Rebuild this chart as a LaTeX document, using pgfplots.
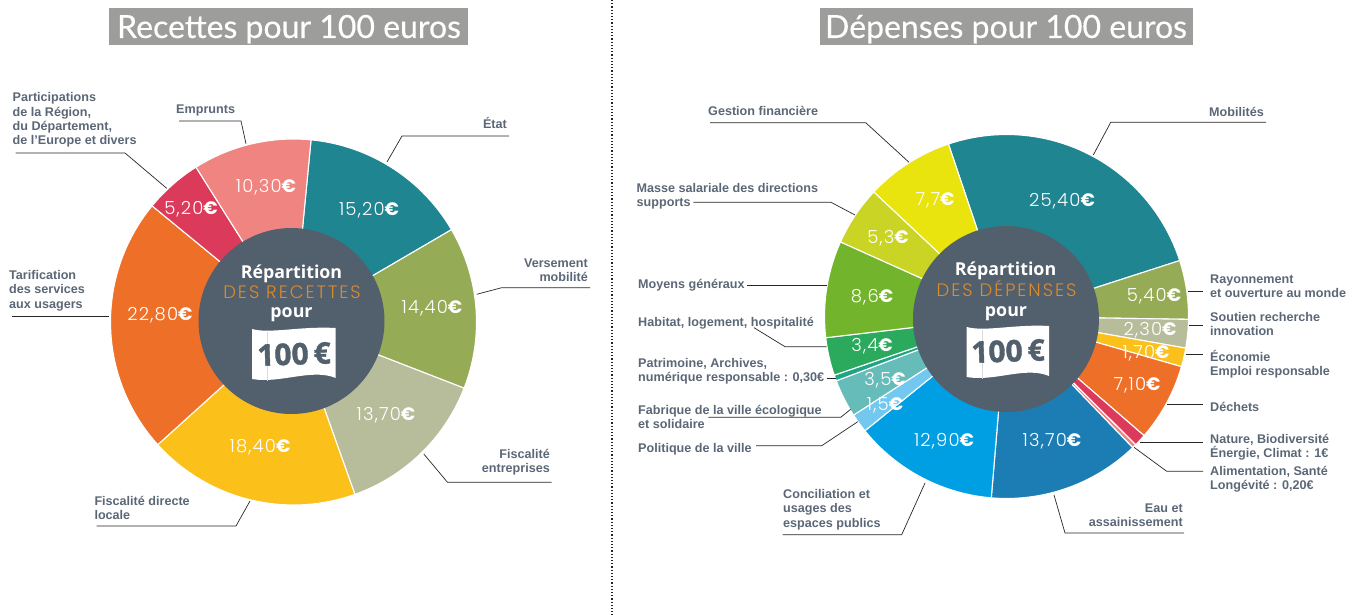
\documentclass[border=0pt]{standalone}
\usepackage{fontspec}
\usepackage{pgfplots}
\pgfplotsset{compat=1.18}
\setmainfont{Liberation Sans}
\newfontfamily\titlefont[FakeBold=0.35]{Lato}
\newfontfamily\centerfont{Open Sans}
\newfontfamily\heavyfont[FakeBold=1.2]{Open Sans}
\newfontfamily\valfont[LetterSpace=6.5]{Poppins Light}
\newfontfamily\desfont[LetterSpace=11]{Poppins Light}
\newfontfamily\eurofont{Poppins}
\definecolor{cTeal}{HTML}{1F8590}
\definecolor{cOlive}{HTML}{95AB56}
\definecolor{cSage}{HTML}{B7BD9B}
\definecolor{cAmber}{HTML}{FCC01A}
\definecolor{cOrange}{HTML}{EE7028}
\definecolor{cCrimson}{HTML}{DC3A5A}
\definecolor{cSalmon}{HTML}{F08480}
\definecolor{cYellow}{HTML}{E9E30E}
\definecolor{cLime}{HTML}{C9D424}
\definecolor{cGreen}{HTML}{72B52C}
\definecolor{cEmerald}{HTML}{2BA95C}
\definecolor{cMint}{HTML}{1FA585}
\definecolor{cAqua}{HTML}{66BCB8}
\definecolor{cSky}{HTML}{72C8EE}
\definecolor{cCyan}{HTML}{009FE3}
\definecolor{cBlue}{HTML}{1C7DB4}
\definecolor{cDark}{HTML}{525F6C}
\definecolor{cTitle}{HTML}{9D9D9C}
\definecolor{cText}{HTML}{5B6776}
\definecolor{cDes}{HTML}{E08A2A}
% #1 cx, #2 cy, #3 r, #4 start angle, #5 end angle, #6 colour
\newcommand{\slice}[6]{%
  \gdef\pts{(#1,#2)}%
  \pgfmathtruncatemacro\N{ceil(abs(#5-#4)/2)+1}%
  \foreach \k in {0,...,\N}{%
    \pgfmathsetmacro\ang{#4+(#5-#4)*\k/\N}%
    \pgfmathsetmacro\px{#1+#3*cos(\ang)}%
    \pgfmathsetmacro\py{#2-#3*sin(\ang)}%
    \xdef\pts{\pts (\px,\py)}%
  }%
  \edef\tmp{\noexpand\addplot[fill=#6,draw=white,line width=1.1pt,line join=round,mark=none,forget plot] coordinates {\pts (#1,#2)};}%
  \tmp
}
\newcommand{\val}[3]{\node[text=white,inner sep=0,anchor=center,yshift=-1pt] at (#1,#2) {\fontsize{18}{20}\valfont #3{\eurofont\bfseries €}};}
\newcommand{\lblL}[3]{\node[anchor=west,inner sep=0,yshift=-1pt,align=left,text=cText,font=\fontsize{12.6}{14.3}\selectfont\bfseries] at (#1,#2) {#3};}
\newcommand{\lblR}[3]{\node[anchor=east,inner sep=0,yshift=-1pt,align=right,text=cText,font=\fontsize{12.6}{14.3}\selectfont\bfseries] at (#1,#2) {#3};}
\tikzset{lead/.style={draw=black!85,line width=0.7pt}}
\begin{document}
\begin{tikzpicture}
\begin{axis}[width=1366pt,height=615pt,scale only axis,hide axis,clip=false,
  xmin=0,xmax=1366,ymin=0,ymax=615,y dir=reverse]
\path[use as bounding box] (0,0) rectangle (1366,615);
% separator
\draw[black!85,line width=1.2pt,dotted] (612,0) -- (612,615);
% titles
\fill[cTitle] (109,8) rectangle (468,45);
\fill[cTitle] (820,8) rectangle (1193,45);
\node[text=white,inner sep=0,anchor=base] at (289,38) {\fontsize{32}{34}\titlefont Recettes pour 100 euros};
\node[text=white,inner sep=0,anchor=base] at (1006,38) {\fontsize{32}{34}\titlefont Dépenses pour 100 euros};
% left pie
\slice{293.5}{322}{183}{84.5}{30.3}{cTeal}
\slice{293.5}{322}{183}{30.3}{-21.2}{cOlive}
\slice{293.5}{322}{183}{-21.2}{-70.4}{cSage}
\slice{293.5}{322}{183}{-70.4}{-137.9}{cAmber}
\slice{293.5}{322}{183}{222.1}{140.6}{cOrange}
\slice{293.5}{322}{183}{140.6}{122.2}{cCrimson}
\slice{293.5}{322}{183}{122.2}{84.5}{cSalmon}
% right pie
\slice{1006.5}{316.5}{182}{108.6}{17.9}{cTeal}
\slice{1006.5}{316.5}{182}{17.9}{-0.9}{cOlive}
\slice{1006.5}{316.5}{182}{-0.9}{-10}{cSage}
\slice{1006.5}{316.5}{182}{-10}{-16}{cAmber}
\slice{1006.5}{316.5}{182}{-16}{-40.9}{cOrange}
\slice{1006.5}{316.5}{182}{-40.9}{-44.8}{cCrimson}
\slice{1006.5}{316.5}{182}{-44.8}{-46.1}{cSalmon}
\slice{1006.5}{316.5}{182}{-46.1}{-94.8}{cBlue}
\slice{1006.5}{316.5}{182}{265.2}{218.9}{cCyan}
\slice{1006.5}{316.5}{182}{218.9}{212.8}{cSky}
\slice{1006.5}{316.5}{182}{212.8}{200.7}{cAqua}
\slice{1006.5}{316.5}{182}{200.7}{198.8}{cMint}
\slice{1006.5}{316.5}{182}{198.8}{186.7}{cEmerald}
\slice{1006.5}{316.5}{182}{186.7}{155.8}{cGreen}
\slice{1006.5}{316.5}{182}{155.8}{136.8}{cLime}
\slice{1006.5}{316.5}{182}{136.8}{108.6}{cYellow}
% centres
\fill[cDark] (291.5,321) ellipse [x radius=93, y radius=93];
\fill[cDark] (1006,319) ellipse [x radius=93, y radius=93];
% centre text left
\node[text=white,inner sep=0,anchor=base] at (291.5,278) {\fontsize{17.8}{20}\centerfont\bfseries Répartition};
\node[text=cDes,inner sep=0,anchor=base] at (292,298) {\fontsize{18}{20}\desfont DES RECETTES};
\node[text=white,inner sep=0,anchor=base] at (291.5,317) {\fontsize{17.8}{20}\centerfont\bfseries pour};
\fill[white] (252,329) .. controls (270,334) and (300,326) .. (335.7,328) -- (335.7,378) .. controls (312,368) and (280,384) .. (252,379) -- cycle;
\draw[black!15,line width=0.4pt] (267,332) -- (267,381);
\node[text=cDark,inner sep=0,rotate=2] at (294,354) {\fontsize{30}{32}\heavyfont\bfseries 100\,€};
% centre text right
\node[text=white,inner sep=0,anchor=base] at (1005.5,275) {\fontsize{17.8}{20}\centerfont\bfseries Répartition};
\node[text=cDes,inner sep=0,anchor=base] at (1006.5,296.7) {\fontsize{18}{20}\desfont DES DÉPENSES};
\node[text=white,inner sep=0,anchor=base] at (1006,316) {\fontsize{17.8}{20}\centerfont\bfseries pour};
\fill[white] (966.7,327) .. controls (985,332) and (1015,324) .. (1049,326) -- (1049,376) .. controls (1025,366) and (995,382) .. (966.7,377) -- cycle;
\draw[black!15,line width=0.4pt] (982,330) -- (982,379);
\node[text=cDark,inner sep=0,rotate=2] at (1008,351) {\fontsize{30}{32}\heavyfont\bfseries 100\,€};
% values left
\val{266}{186}{10,30}
\val{369}{209}{15,20}
\val{432}{307}{14,40}
\val{386}{414}{13,70}
\val{260}{446}{18,40}
\val{160}{314}{22,80}
\val{191}{208}{5,20}
% values right
\val{1062}{200}{25,40}
\val{1154}{295}{5,40}
\val{1150}{329}{2,30}
\val{1146}{352}{1,70}
\val{1137}{384}{7,10}
\val{1052}{440}{13,70}
\val{944}{440}{12,90}
\val{885}{404}{1,5}
\val{885}{379}{3,5}
\val{872}{345}{3,4}
\val{872}{296}{8,6}
\val{888}{237}{5,3}
\val{935}{199}{7,7}
% leaders left
\draw[lead] (387,162) -- (402,136) -- (509,136);
\draw[lead] (476.7,294.3) -- (501.7,287.7) -- (590,287.7);
\draw[lead] (423.8,454) -- (447.5,482.3) -- (551.7,482.3);
\draw[lead] (250,501) -- (236,526) -- (96.6,526);
\draw[lead] (12,316) -- (109,316);
\draw[lead] (15.7,153) -- (125,153) -- (166.7,188.3);
\draw[lead] (179,121) -- (241,121) -- (246,143.7);
% labels left
\lblR{507}{122}{État}
\lblR{588}{269}{Versement\\mobilité}
\lblR{550}{461.5}{Fiscalité\\entreprises}
\lblL{94.3}{507}{Fiscalité directe\\locale}
\lblL{9}{289.5}{Tarification\\des services\\aux usagers}
\lblL{12.5}{119}{Participations\\de la Région,\\du Département,\\de l’Europe et divers}
\lblL{176}{109}{Emprunts}
% leaders right
\draw[lead] (710,122.7) -- (865.7,122.7) -- (909,162.3);
\draw[lead] (693.3,202.3) -- (831,202.3) -- (855,215);
\draw[lead] (747.3,285) -- (826.7,285);
\draw[lead] (754,327.7) -- (785,346.7) -- (826.7,346.7);
\draw[lead] (826.7,378.3) -- (835.7,378.3);
\draw[lead] (708.3,417.3) -- (840.7,417.3) -- (850.7,409.3);
\draw[lead] (756,445.7) -- (821.7,445.7) -- (857.7,421.7);
\draw[lead] (782.7,534.7) -- (901.7,534.7) -- (925,483);
\draw[lead] (1054,495) -- (1065,533) -- (1184,533);
\draw[lead] (1093.3,155) -- (1110.7,122.3) -- (1266,122.3);
\draw[lead] (1188.3,291) -- (1203.3,291);
\draw[lead] (1189,325.3) -- (1203,325.3);
\draw[lead] (1185.7,354.3) -- (1203.3,354.3);
\draw[lead] (1167.3,404.3) -- (1203,404.3);
\draw[lead] (1140,442) -- (1203,442);
\draw[lead] (1134,447.3) -- (1166.7,471.3) -- (1203,471.3);
% labels right
\lblL{708}{110}{Gestion financière}
\lblL{636.5}{195.5}{Masse salariale des directions\\supports}
\lblL{638}{284}{Moyens généraux}
\lblL{638}{322}{Habitat, logement, hospitalité}
\lblL{638}{370}{Patrimoine, Archives,\\numérique responsable : 0,30€}
\lblL{638}{416}{Fabrique de la ville écologique\\et solidaire}
\lblL{638}{448}{Politique de la ville}
\lblL{783}{508.5}{Conciliation et\\usages des\\espaces publics}
\lblR{1183}{514}{Eau et\\assainissement}
\lblL{1209}{110.5}{Mobilités}
\lblL{1210}{285}{Rayonnement\\et ouverture au monde}
\lblL{1210}{323}{Soutien recherche\\innovation}
\lblL{1210}{363}{Économie\\Emploi responsable}
\lblL{1210}{405.5}{Déchets}
\lblL{1210}{446.5}{Nature, Biodiversité\\Énergie, Climat : 1€}
\lblL{1210}{478.5}{Alimentation, Santé\\Longévité : 0,20€}
\end{axis}
\end{tikzpicture}
\end{document}
